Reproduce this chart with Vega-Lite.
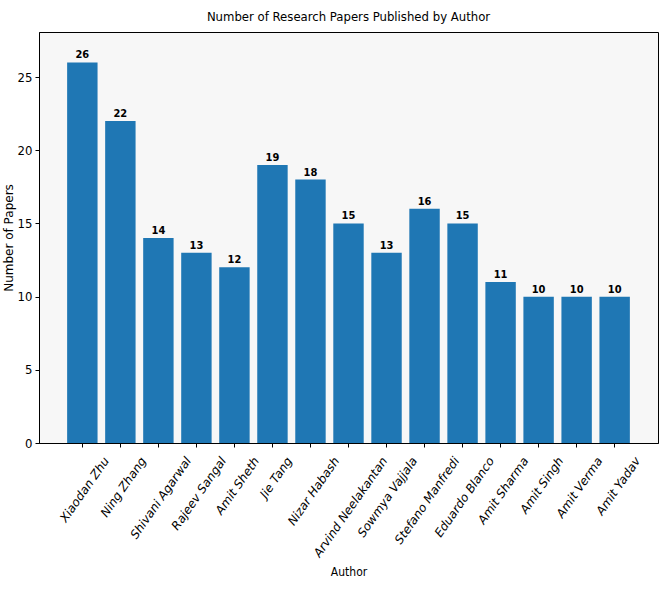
{
  "$schema": "https://vega.github.io/schema/vega-lite/v6.json",
  "autosize": "none",
  "padding": {"left": 39, "top": 32, "right": 6, "bottom": 147},
  "width": 619,
  "height": 411,
  "background": "white",
  "title": {"text": "Number of Research Papers Published by Author", "font": "DejaVu Sans Condensed", "fontSize": 13, "fontWeight": "normal", "color": "black", "offset": 8},
  "config": {
    "view": {"fill": "#f7f7f7", "stroke": "black", "strokeWidth": 1},
    "axis": {"domainColor": "black", "tickColor": "black", "labelColor": "black", "titleColor": "black", "grid": false}
  },
  "data": {"values": [
    {"author": "Xiaodan Zhu", "papers": 26},
    {"author": "Ning Zhang", "papers": 22},
    {"author": "Shivani Agarwal", "papers": 14},
    {"author": "Rajeev Sangal", "papers": 13},
    {"author": "Amit Sheth", "papers": 12},
    {"author": "Jie Tang", "papers": 19},
    {"author": "Nizar Habash", "papers": 18},
    {"author": "Arvind Neelakantan", "papers": 15},
    {"author": "Sowmya Vajjala", "papers": 13},
    {"author": "Stefano Manfredi", "papers": 16},
    {"author": "Eduardo Blanco", "papers": 15},
    {"author": "Amit Sharma", "papers": 11},
    {"author": "Amit Singh", "papers": 10},
    {"author": "Amit Verma", "papers": 10},
    {"author": "Amit Yadav", "papers": 10}
  ]},
  "encoding": {
    "x": {"field": "author", "type": "nominal", "sort": null,
      "scale": {"paddingInner": 0.2, "paddingOuter": 0.74},
      "axis": {"title": "Author", "titleFont": "DejaVu Sans Condensed", "titleFontSize": 12, "titleFontWeight": "normal", "titlePadding": 8,
        "labelAngle": -55, "labelAlign": "right", "labelBaseline": "middle", "labelFont": "DejaVu Sans", "labelFontStyle": "italic", "labelFontSize": 12, "labelPadding": 11, "tickSize": 4, "labelOverlap": false,
        "labelOffset": {"condition": [
          {"test": "datum.value == 'Xiaodan Zhu'", "value": 24},
          {"test": "datum.value == 'Ning Zhang'", "value": 23},
          {"test": "datum.value == 'Shivani Agarwal'", "value": 30},
          {"test": "datum.value == 'Rajeev Sangal'", "value": 27},
          {"test": "datum.value == 'Amit Sheth'", "value": 22},
          {"test": "datum.value == 'Jie Tang'", "value": 17},
          {"test": "datum.value == 'Nizar Habash'", "value": 26},
          {"test": "datum.value == 'Arvind Neelakantan'", "value": 36},
          {"test": "datum.value == 'Sowmya Vajjala'", "value": 28},
          {"test": "datum.value == 'Stefano Manfredi'", "value": 32},
          {"test": "datum.value == 'Eduardo Blanco'", "value": 29},
          {"test": "datum.value == 'Amit Sharma'", "value": 25},
          {"test": "datum.value == 'Amit Singh'", "value": 22}
        ], "value": 23}}},
    "y": {"field": "papers", "type": "quantitative",
      "scale": {"domain": [0, 28.08], "nice": false},
      "axis": {"title": "Number of Papers", "titleFont": "DejaVu Sans", "titleFontSize": 12, "titleFontWeight": "normal", "titlePadding": 2,
        "values": [0, 5, 10, 15, 20, 25], "labelFont": "DejaVu Sans Condensed", "labelFontSize": 13, "tickSize": 4, "labelPadding": 3}}
  },
  "layer": [
    {"mark": {"type": "bar", "color": "#1f77b4"}},
    {"mark": {"type": "text", "baseline": "bottom", "dy": -2, "font": "DejaVu Sans Condensed", "fontWeight": "bold", "fontSize": 11, "color": "black"},
     "encoding": {"text": {"field": "papers", "type": "quantitative"}}}
  ]
}
